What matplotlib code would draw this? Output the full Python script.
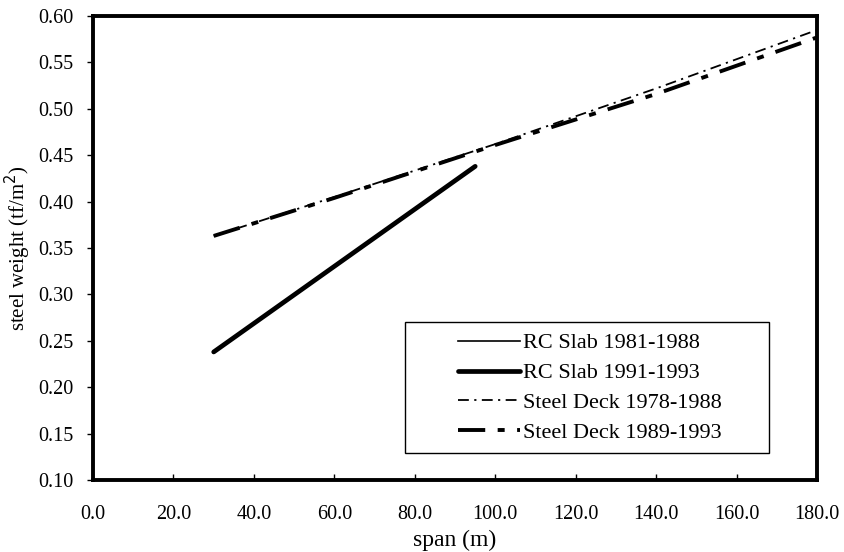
import matplotlib
matplotlib.use("Agg")
import matplotlib.pyplot as plt
from matplotlib.patches import Rectangle

plt.rcParams['font.family'] = ['Liberation Serif', 'DejaVu Serif']

rc_span = [30, 95]
rc_8188 = [0.238, 0.438]
rc_9193 = [0.238, 0.438]
sd_span = [30, 60, 100, 140, 180]
sd_7888 = [0.363, 0.405, 0.462, 0.522, 0.585]
sd_8993 = [0.363, 0.404, 0.461, 0.516, 0.577]

xticks = [0, 20, 40, 60, 80, 100, 120, 140, 160, 180]
yticks = [0.10, 0.15, 0.20, 0.25, 0.30, 0.35, 0.40, 0.45, 0.50, 0.55, 0.60]

fig = plt.figure(figsize=(8.44, 5.52), dpi=100)
ax = fig.add_axes([0.1102, 0.1304, 0.858, 0.8406])

ax.plot(rc_span, rc_8188, color='black', lw=1.2, label='RC Slab 1981-1988')
ax.plot(rc_span, rc_9193, color='black', lw=3.4, solid_capstyle='round', label='RC Slab 1991-1993')
ax.plot(sd_span, sd_7888, color='black', lw=1.3, dashes=(6, 3, 1.2, 3), label='Steel Deck 1978-1988')
ax.plot(sd_span, sd_8993, color='black', lw=2.8, dashes=(7, 3.2, 1.8, 3.2), label='Steel Deck 1989-1993')

ax.set_xlim(0, 180)
ax.set_ylim(0.10, 0.60)
ax.set_xticks(xticks)
ax.set_xticklabels([f"{v:.1f}" for v in xticks], fontsize=14.5)
ax.set_yticks(yticks)
ax.set_yticklabels([f"{v:.2f}" for v in yticks], fontsize=14.5)
ax.tick_params(axis='x', direction='in', length=4, width=1, pad=18)
ax.tick_params(axis='y', direction='out', length=4, width=1, pad=10)
for s in ax.spines.values():
    s.set_linewidth(2.8)

ax.set_xlabel('span (m)', fontsize=17, labelpad=4)
ax.set_ylabel('steel weight (tf/m$^2$)', fontsize=15)
ax.yaxis.set_label_coords(-0.083, 0.5)

# legend frame
ax.add_patch(Rectangle((0.431, 0.058), 0.503, 0.282, transform=ax.transAxes,
                       fill=True, facecolor='white', edgecolor='black', lw=1.0, zorder=4))
leg = ax.legend(loc='upper left', bbox_to_anchor=(0.504, 0.317),
                fontsize=16, frameon=False,
                handlelength=2.8, handletextpad=0.12, borderpad=0.0,
                borderaxespad=0.0, labelspacing=0.42)
leg.set_zorder(5)

fig.savefig('out.png', dpi=100)
